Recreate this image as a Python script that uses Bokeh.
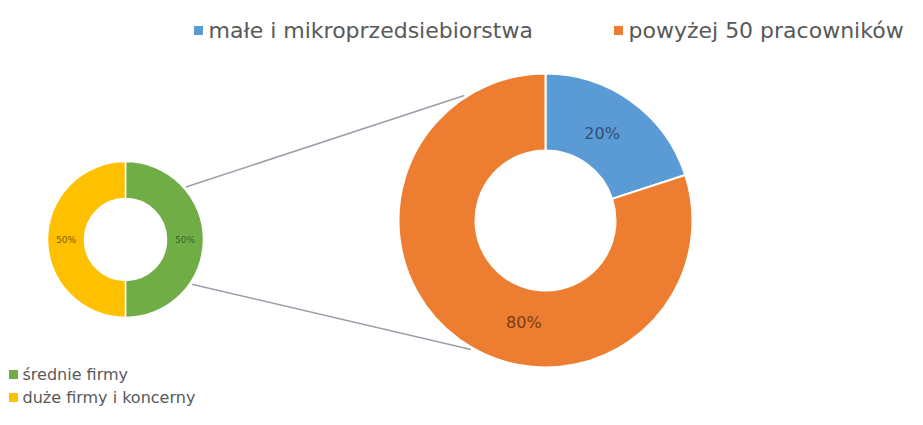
import math
from bokeh.plotting import figure
from bokeh.models import Range1d
from bokeh.core.properties import value
from bokeh.embed import file_html
from bokeh.resources import INLINE

# ---- data ----
small_categories = ["średnie firmy", "duże firmy i koncerny"]
small_values = [50, 50]
big_categories = ["małe i mikroprzedsiebiorstwa", "powyżej 50 pracowników"]
big_values = [20, 80]

# ---- styles ----
small_colors = ["#70ad47", "#ffc000"]
small_label_colors = ["#3d6327", "#7a5c00"]
big_colors = ["#5b9bd5", "#ed7d31"]
big_label_colors = ["#2f4f73", "#7a3c12"]
FONT = "DejaVu Sans"

W, H = 907, 409
p = figure(width=W, height=H, output_backend="svg", toolbar_location=None,
           x_range=Range1d(0, W), y_range=Range1d(425 - H, 425),
           min_border=0)
p.axis.visible = False
p.grid.visible = False
p.outline_line_color = None
p.background_fill_color = "white"


def Y(y):
    return 425 - y


def angles(vals):
    tot = float(sum(vals))
    cum = 0.0
    out = []
    for v in vals:
        s = math.pi / 2 - 2 * math.pi * cum / tot
        cum += v
        e = math.pi / 2 - 2 * math.pi * cum / tot
        out.append((s, e))
    return out


# geometry
scx, scy, sr_in, sr_out = 125, Y(239), 41, 78
bcx, bcy, br_in, br_out = 545, Y(220), 70, 147

# connector lines
for a_s, a_b in [(41, 123), (-34, -120)]:
    x0 = scx + (sr_out + 2) * math.cos(math.radians(a_s))
    y0 = scy + (sr_out + 2) * math.sin(math.radians(a_s))
    x1 = bcx + (br_out + 2) * math.cos(math.radians(a_b))
    y1 = bcy + (br_out + 2) * math.sin(math.radians(a_b))
    p.line([x0, x1], [y0, y1], line_color="#9d9daa", line_width=1.5)

# small donut
sa = angles(small_values)
for (s, e), c in zip(sa, small_colors):
    p.annular_wedge(x=scx, y=scy, inner_radius=sr_in, outer_radius=sr_out,
                    start_angle=s, end_angle=e, direction="clock",
                    fill_color=c, line_color="white", line_width=1.5)
stot = sum(small_values)
for (s, e), v, lc in zip(sa, small_values, small_label_colors):
    m = (s + e) / 2
    r = (sr_in + sr_out) / 2
    p.text(x=[scx + r * math.cos(m)], y=[scy + r * math.sin(m)],
           text=["%d%%" % round(100 * v / stot)], text_align="center",
           text_baseline="middle", text_font=value(FONT),
           text_font_size="9px", text_color=lc)

# big donut
ba = angles(big_values)
for (s, e), c in zip(ba, big_colors):
    p.annular_wedge(x=bcx, y=bcy, inner_radius=br_in, outer_radius=br_out,
                    start_angle=s, end_angle=e, direction="clock",
                    fill_color=c, line_color="white", line_width=2)
btot = sum(big_values)
label_angle = [57, -102]
for la, v, lc in zip(label_angle, big_values, big_label_colors):
    r = 104
    p.text(x=[bcx + r * math.cos(math.radians(la))],
           y=[bcy + r * math.sin(math.radians(la))],
           text=["%d%%" % round(100 * v / btot)], text_align="center",
           text_baseline="middle", text_font=value(FONT),
           text_font_size="16px", text_color=lc)

# top legend
top_x = [193, 613]
for x, c, t in zip(top_x, big_colors, big_categories):
    p.rect(x=[x + 5], y=[Y(30)], width=9, height=9, fill_color=c, line_color=None)
    p.text(x=[x + 15], y=[Y(30)], text=[t], text_baseline="middle",
           text_font=value(FONT), text_font_size="22px", text_color="#595959")

# bottom legend
bot_y = [374, 397]
for y, c, t in zip(bot_y, small_colors, small_categories):
    p.rect(x=[13], y=[Y(y)], width=9, height=9, fill_color=c, line_color=None)
    p.text(x=[22], y=[Y(y)], text=[t], text_baseline="middle",
           text_font=value(FONT), text_font_size="16px", text_color="#595959")

open("out.html", "w").write(file_html(p, INLINE))
